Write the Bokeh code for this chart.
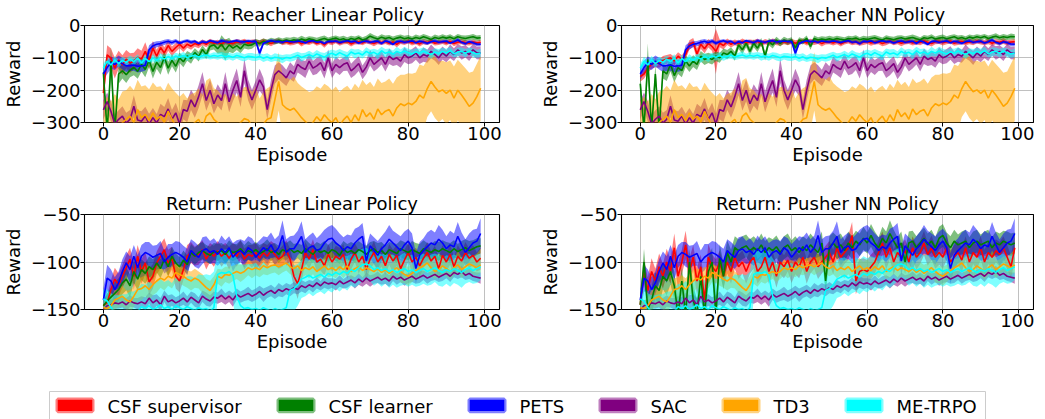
import numpy as np
from bokeh.plotting import figure
from bokeh.layouts import column, row
from bokeh.models import FixedTicker, Range1d, CustomJSTickFormatter
from bokeh.embed import file_html
from bokeh.resources import INLINE
from bokeh.core.properties import value

methods = ["CSF supervisor", "CSF learner", "PETS", "SAC", "TD3", "ME-TRPO"]
colors = ["red", "green", "blue", "purple", "orange", "cyan"]
x_ticks = [0, 20, 40, 60, 80, 100]
reacher_y_ticks = [-300, -200, -100, 0]
pusher_y_ticks = [-150, -100, -50]

# ---------------- Reacher (shared baselines) ----------------
reacher_pets = [-150,-130,-115,-120,-110,-118,-125,-124,-122,-126,-125,-123,
    -75,-63,-58,-56,-52,-49,-53,-48,
    -55,-50,-47,-52,-49,-56,-50,-53,-47,-50,
    -53,-47,-50,-52,-49,-47,-51,-50,-48,-50,
    -49,-86,-55,-50,-47,-50,-49,-52,-48,-50,
    -51,-48,-50,-53,-49,-47,-52,-50,-56,-49,
    -50,-48,-53,-50,-47,-51,-49,-54,-50,-48,
    -52,-50,-49,-55,-48,-51,-58,-50,-49,-52,
    -50,-48,-53,-49,-51,-55,-50,-48,-52,-50,
    -49,-54,-50,-45,-52,-56,-50,-53,-57,-58]
reacher_pets_sd = [18,20,19,18,17,18,19,17,18,19,18,17,
    14,11,9,8,8,7,7,6,
    6,5,5,6,5,5,6,5,4,5, 5,6,5,5,4,5,6,5,5,5,
    6,12,6,5,5,6,5,5,4,5, 5,6,5,5,6,5,5,4,6,5,
    5,5,6,5,4,5,6,5,5,6, 5,5,6,5,5,7,5,5,6,5,
    5,6,5,5,6,5,5,6,5,5, 6,5,5,6,5,6,5,6,7,6]
reacher_metrpo = [-132,-110,-122,-106,-118,-108,-114,-104,-112,-100,
    -116,-102,-112,-100,-108,-98,-104,-96,-102,-94,
    -98,-93,-99,-95,-92,-97,-94,-91,-96,-93,
    -95,-92,-97,-94,-98,-93,-96,-100,-95,-97,
    -99,-96,-101,-97,-103,-98,-100,-104,-99,-101,
    -97,-92,-99,-94,-90,-96,-88,-93,-98,-90,
    -86,-92,-84,-90,-95,-82,-88,-85,-91,-80,
    -87,-83,-90,-78,-86,-82,-89,-80,-85,-79,
    -84,-88,-81,-86,-79,-85,-90,-82,-87,-80,
    -85,-78,-88,-82,-80,-86,-79,-84,-88,-85]
reacher_metrpo_sd = [14,13,12,12,12,11,12,11,12,11,
    11,12,10,11,10,12,11,10,11,10, 10,11,10,9,11,10,10,11,9,10,
    11,10,12,10,11,10,12,11,10,12, 11,10,12,11,10,12,11,13,10,11,
    12,11,13,10,12,11,12,10,13,11, 12,14,11,12,13,11,14,12,11,13,
    12,11,14,12,13,11,12,14,11,13, 12,13,11,14,12,11,13,12,14,11,
    13,12,11,14,12,13,11,14,12,13]
reacher_sac = [-261,-235,-266,-305,-290,-280,-302,-290,-250,-292,
    -296,-280,-305,-285,-302,-275,-282,-258,-290,-270,
    -305,-260,-265,-230,-252,-220,-180,-232,-200,-242,
    -215,-232,-180,-236,-200,-170,-222,-140,-200,-230,
    -200,-168,-190,-260,-200,-152,-140,-150,-162,-140,
    -150,-120,-130,-136,-110,-132,-125,-115,-140,-100,
    -140,-120,-130,-120,-115,-140,-130,-118,-145,-128,
    -100,-120,-110,-100,-120,-95,-105,-100,-110,-90,
    -100,-95,-85,-100,-90,-95,-80,-90,-100,-85,
    -95,-80,-90,-75,-85,-80,-90,-75,-85,-85]
reacher_sac_sd = [30,28,32,30,28,30,32,29,34,30,
    31,29,32,30,28,33,30,34,29,31, 32,30,34,31,33,35,36,32,34,30,
    33,31,36,32,34,37,30,38,32,31, 30,34,28,30,32,28,26,27,25,26,
    24,25,23,26,24,22,25,23,24,26, 22,24,23,21,25,22,24,23,21,22,
    24,22,23,21,22,24,20,22,21,23, 20,22,21,19,22,20,21,19,22,20,
    19,21,20,18,21,19,20,18,19,20]
reacher_td3 = [-330,-320,-340,-310,-330,-300,-290,-280,-300,-260,
    -285,-275,-295,-270,-290,-280,-300,-265,-290,-310,
    -320,-305,-330,-310,-300,-290,-315,-280,-270,-290,
    -300,-320,-310,-330,-305,-320,-300,-288,-292,-310,
    -300,-330,-305,-290,-285,-230,-173,-245,-256,-262,
    -256,-270,-285,-297,-310,-300,-282,-296,-276,-290,
    -300,-285,-310,-292,-280,-300,-276,-295,-260,-282,
    -270,-290,-258,-276,-265,-260,-280,-255,-242,-248,
    -240,-245,-235,-215,-225,-195,-173,-190,-205,-199,
    -210,-200,-225,-200,-215,-232,-250,-240,-220,-194]
reacher_td3_sd = [95,100,105,98,102,96,90,94,100,92,
    96,90,98,94,100,92,97,88,95,102, 100,96,104,98,92,95,100,110,108,96,
    100,104,98,102,96,100,94,98,102,104, 110,104,100,96,98,95,90,92,96,94,
    98,92,96,100,104,98,94,100,96,102, 100,96,104,98,94,100,96,102,92,98,
    96,100,94,98,92,96,100,94,90,96, 92,96,90,94,100,88,92,96,94,90,
    96,92,98,94,96,100,104,98,102,100]

# Reacher, CSF with linear policy
reacher_csf_sup_lin = [-209,-91,-101,-132,-106,-122,-104,-116,-110,-98,
    -104,-80,-110,-70,-95,-68,-85,-62,-80,-68,
    -58,-70,-58,-64,-56,-60,-52,-58,-50,-55,
    -52,-58,-50,-54,-56,-50,-53,-48,-55,-51,
    -50,-54,-48,-52,-56,-50,-47,-53,-50,-55,
    -52,-49,-57,-50,-53,-48,-56,-51,-60,-50,
    -53,-48,-55,-51,-49,-57,-52,-50,-54,-48,
    -52,-56,-50,-53,-49,-55,-51,-58,-50,-52,
    -49,-54,-51,-57,-50,-53,-48,-55,-52,-50,
    -54,-49,-56,-52,-50,-53,-55,-51,-54,-52]
reacher_csf_sup_lin_sd = [32,30,30,32,28,30,28,30,26,28,
    26,28,24,22,20,18,18,16,15,14, 12,12,11,11,10,10,9,9,9,8,
    8,9,8,8,9,8,8,7,8,8, 7,8,8,7,8,8,7,8,8,7,
    8,7,8,8,7,8,7,8,9,7, 8,7,8,7,8,8,7,8,7,8,
    7,8,8,7,8,7,8,9,7,8, 7,8,7,8,8,7,8,7,8,7,
    8,7,8,7,8,8,7,8,7,8]
reacher_csf_lrn_lin = [-145,-330,-110,-330,-150,-140,-152,-138,-130,-142,
    -120,-136,-108,-142,-114,-130,-98,-132,-108,-126,
    -100,-112,-94,-102,-84,-96,-74,-90,-64,-60,
    -72,-58,-76,-60,-70,-62,-72,-58,-62,-60,
    -52,-56,-49,-53,-47,-50,-46,-49,-45,-48,
    -44,-47,-42,-46,-41,-44,-48,-43,-40,-45,
    -42,-39,-44,-41,-46,-40,-43,-38,-45,-41,
    -33,-38,-42,-36,-40,-37,-43,-39,-36,-41,
    -38,-42,-37,-40,-35,-39,-43,-37,-40,-36,
    -39,-36,-41,-35,-38,-40,-37,-35,-39,-38]
reacher_csf_lrn_lin_sd = [35,20,45,20,30,24,26,22,24,23,
    22,24,20,22,20,22,18,20,18,19, 16,17,15,16,14,15,13,14,13,14,
    15,28,32,22,16,14,14,13,12,12, 10,10,9,10,9,9,10,9,9,10,
    9,9,10,9,8,9,10,9,9,8, 9,8,9,9,10,8,9,8,9,9,
    10,9,8,9,9,8,9,9,8,9, 9,8,9,8,9,9,8,9,8,9,
    8,9,8,9,8,9,8,9,8,9]

# Reacher, CSF with NN policy
reacher_csf_sup_nn = [-158,-150,-132,-120,-115,-118,-108,-104,-100,-110,
    -95,-105,-90,-60,-52,-88,-58,-72,-55,-65,
    -80,-55,-62,-50,-58,-52,-56,-49,-54,-51,
    -53,-49,-57,-50,-54,-48,-52,-55,-50,-53,
    -49,-55,-51,-48,-54,-50,-52,-49,-56,-51,
    -50,-54,-49,-57,-51,-48,-53,-50,-55,-52,
    -49,-54,-51,-50,-56,-52,-48,-53,-50,-55,
    -51,-49,-54,-50,-53,-48,-52,-56,-50,-49,
    -53,-50,-48,-55,-51,-49,-54,-50,-52,-48,
    -51,-53,-49,-55,-50,-52,-48,-54,-51,-50]
reacher_csf_sup_nn_sd = [16,15,15,14,14,13,14,13,12,13,
    12,13,14,14,13,18,14,14,13,14, 70,12,12,10,10,9,9,9,8,8,
    8,8,9,8,8,8,9,8,8,8, 8,9,8,8,8,9,8,8,9,8,
    8,8,9,8,8,8,8,9,8,8, 8,9,8,8,8,9,8,8,8,9,
    8,8,8,9,8,8,8,9,8,8, 9,8,8,8,9,8,8,8,9,8,
    8,8,9,8,8,8,9,8,8,8]
reacher_csf_lrn_nn = [-180,-320,-105,-320,-150,-320,-140,-150,-120,-155,
    -130,-140,-110,-125,-110,-120,-95,-105,-100,-105,
    -95,-100,-85,-90,-80,-95,-60,-75,-55,-80,
    -55,-70,-50,-95,-50,-60,-45,-55,-45,-50,
    -45,-70,-45,-50,-40,-65,-40,-45,-42,-44,
    -41,-44,-40,-43,-45,-40,-42,-39,-44,-41,
    -43,-40,-38,-42,-45,-39,-41,-44,-40,-38,
    -42,-39,-37,-41,-44,-38,-40,-36,-42,-39,
    -37,-41,-38,-35,-40,-37,-42,-36,-39,-35,
    -38,-34,-40,-36,-33,-38,-35,-37,-34,-35]
reacher_csf_lrn_nn_sd = [40,20,50,20,30,20,24,22,22,21,
    20,20,18,19,18,18,16,17,16,16, 15,15,14,14,13,14,13,13,12,13,
    12,12,11,13,11,11,10,10,10,10, 9,11,9,9,9,10,9,9,9,9,
    9,9,8,9,9,8,9,9,8,9, 9,8,9,9,8,9,8,9,9,8,
    9,8,9,9,8,9,8,9,8,9, 9,8,9,8,9,8,9,8,9,8,
    9,8,9,8,9,8,9,8,9,8]

# ---------------- Pusher (shared baselines) ----------------
pusher_pets = [-140,-117,-120,-129,-122,-110,-101,-108,-94,-106,
    -94,-90,-92,-95,-93,-91,-100,-95,-92,-90,
    -92,-95,-100,-88,-92,-95,-88,-86,-90,-88,
    -92,-86,-90,-85,-95,-90,-88,-92,-85,-88,
    -95,-90,-85,-88,-82,-90,-85,-72,-90,-86,
    -86,-80,-73,-90,-85,-83,-88,-86,-80,-76,
    -75,-80,-83,-88,-84,-86,-80,-76,-73,-99,
    -83,-88,-93,-86,-82,-76,-80,-84,-88,-82,
    -78,-85,-107,-93,-88,-84,-80,-82,-76,-80,
    -86,-82,-84,-73,-82,-90,-85,-80,-78,-70]
pusher_pets_sd = [12,14,12,13,12,13,12,14,12,13,
    12,11,13,12,11,13,12,14,11,12, 13,12,14,12,13,12,14,13,12,13,
    12,14,13,12,15,13,12,14,12,13, 14,13,12,14,13,14,13,16,14,13,
    14,13,16,14,13,14,13,15,14,13, 14,15,13,14,13,14,15,13,14,15,
    13,14,15,13,14,15,13,14,15,14, 13,15,16,14,13,15,14,13,15,14,
    13,15,14,15,13,14,15,14,13,16]
pusher_metrpo = [-139,-141,-148,-153,-155,-154,-156,-153,-155,-152,
    -147,-149,-146,-150,-148,-145,-149,-147,-150,-146,
    -148,-150,-147,-149,-151,-148,-150,-149,-152,-148,
    -113,-111,-112,-110,-114,-136,-146,-149,-148,-150,
    -149,-151,-148,-150,-152,-149,-151,-150,-148,-130,
    -128,-124,-118,-116,-114,-117,-115,-113,-116,-112,
    -114,-111,-113,-110,-112,-108,-110,-106,-103,-102,
    -104,-108,-106,-109,-107,-110,-108,-111,-109,-107,
    -110,-108,-111,-109,-107,-110,-108,-106,-109,-111,
    -108,-110,-107,-109,-111,-108,-106,-109,-107,-105]
pusher_metrpo_sd = [10,12,15,18,20,20,22,22,24,24,
    24,25,26,26,27,27,28,28,28,30, 30,32,32,34,34,35,36,36,38,38,
    25,24,25,24,25,40,44,46,46,48, 48,46,48,46,48,46,48,46,46,30,
    24,22,20,20,19,19,18,18,18,18, 18,17,18,17,18,17,17,18,17,17,
    16,17,16,17,16,17,16,16,16,17, 16,16,15,16,16,15,16,15,16,15,
    15,16,15,15,16,15,15,14,15,14]
pusher_sac = [-150,-146,-145,-143,-144,-142,-145,-141,-143,-144,
    -142,-144,-138,-143,-140,-145,-136,-142,-140,-143,
    -141,-138,-142,-137,-140,-143,-136,-139,-141,-137,
    -138,-135,-139,-136,-140,-134,-137,-135,-133,-136,
    -134,-131,-135,-132,-130,-133,-129,-131,-128,-130,
    -127,-129,-125,-127,-124,-126,-122,-125,-121,-123,
    -122,-124,-120,-123,-121,-119,-122,-118,-121,-117,
    -120,-118,-116,-119,-117,-120,-115,-118,-116,-119,
    -117,-115,-118,-116,-114,-117,-115,-113,-116,-114,
    -112,-115,-111,-113,-110,-114,-112,-115,-116,-117]
pusher_sac_sd = [6,6,5,6,5,6,7,6,5,6,
    6,7,6,8,6,7,6,7,6,6, 6,7,6,6,7,6,6,7,6,6,
    6,7,6,6,7,6,6,6,7,6, 6,6,7,6,6,6,7,6,6,6,
    6,5,6,6,5,6,6,5,6,6, 5,6,6,5,6,5,6,6,5,6,
    6,5,6,5,6,6,5,6,5,6, 5,6,5,6,5,6,5,6,5,6,
    5,6,5,5,6,5,6,5,5,6]
pusher_td3 = [-148,-149,-146,-140,-138,-136,-140,-142,-136,-129,
    -128,-125,-129,-124,-120,-117,-119,-115,-117,-111,
    -113,-115,-118,-120,-117,-119,-123,-127,-130,-124,
    -115,-117,-113,-114,-112,-110,-112,-110,-106,-108,
    -106,-108,-104,-106,-104,-103,-105,-103,-101,-105,
    -107,-104,-109,-106,-108,-105,-110,-107,-104,-108,
    -106,-109,-105,-108,-104,-110,-107,-105,-109,-106,
    -108,-110,-107,-111,-108,-112,-109,-106,-110,-113,
    -115,-112,-109,-106,-104,-101,-106,-110,-108,-104,
    -107,-110,-106,-103,-108,-105,-102,-104,-106,-103]
pusher_td3_sd = [8,8,9,10,10,11,10,12,11,12,
    12,11,12,11,12,10,11,10,11,10, 9,10,9,10,10,9,10,9,10,9,
    8,9,8,9,8,8,9,8,8,9, 8,8,9,8,8,8,9,8,8,8,
    8,9,8,8,9,8,8,9,8,8, 9,8,8,9,8,8,9,8,8,9,
    8,8,9,8,8,9,8,8,12,9, 10,9,8,9,8,8,9,8,8,9,
    8,9,8,8,9,8,8,9,8,8]

# Pusher, CSF with linear policy
pusher_csf_sup_lin = [-146,-143,-129,-118,-124,-115,-106,-97,-115,-94,
    -110,-101,-121,-115,-101,-94,-87,-101,-96,-115,
    -120,-108,-94,-90,-94,-92,-87,-97,-90,-94,
    -88,-94,-90,-96,-90,-94,-87,-97,-92,-94,
    -90,-96,-90,-94,-88,-92,-97,-94,-87,-97,
    -115,-123,-108,-90,-97,-87,-100,-97,-104,-92,
    -100,-94,-97,-92,-108,-97,-90,-100,-94,-108,
    -97,-90,-100,-94,-104,-92,-99,-93,-107,-98,
    -90,-100,-95,-104,-96,-90,-99,-94,-107,-93,
    -100,-92,-105,-94,-99,-90,-96,-93,-100,-96]
pusher_csf_sup_lin_sd = [6,8,10,12,12,12,13,12,14,12,
    13,12,14,13,12,13,12,14,12,13, 12,11,12,11,10,11,10,11,10,11,
    10,11,10,12,10,11,10,11,10,12, 10,11,10,12,10,11,10,11,10,11,
    12,16,12,11,10,11,10,12,10,11, 10,11,12,11,10,11,10,12,10,11,
    10,12,10,11,10,11,12,11,10,11, 10,11,10,12,10,11,10,11,12,11,
    10,11,10,12,10,11,10,11,10,12]
pusher_csf_lrn_lin = [-146,-141,-137,-133,-129,-122,-118,-125,-110,-118,
    -108,-112,-105,-108,-101,-107,-97,-105,-94,-101,
    -105,-98,-103,-90,-94,-90,-88,-91,-93,-89,
    -90,-88,-92,-87,-90,-89,-86,-91,-88,-90,
    -87,-91,-89,-86,-90,-88,-92,-87,-89,-86,
    -90,-88,-91,-86,-89,-92,-87,-90,-88,-91,
    -87,-89,-93,-86,-90,-88,-91,-87,-89,-92,
    -88,-86,-90,-88,-92,-87,-89,-91,-86,-88,
    -90,-87,-89,-91,-86,-88,-90,-87,-89,-86,
    -88,-90,-86,-89,-87,-85,-88,-86,-84,-83]
pusher_csf_lrn_lin_sd = [6,8,10,12,12,12,12,12,12,12,
    11,11,11,11,10,10,10,10,10,10, 10,10,10,9,9,9,9,9,9,9,
    9,8,9,10,9,8,9,9,10,9, 8,9,9,10,9,8,9,10,9,9,
    9,8,9,10,9,9,8,9,10,9, 9,10,9,8,9,9,10,9,8,9,
    9,8,10,9,9,8,9,10,9,9, 8,9,9,10,9,8,9,9,10,9,
    9,10,9,8,9,9,10,9,9,8]

# Pusher, CSF with NN policy
pusher_csf_sup_nn = [-145,-110,-130,-110,-120,-105,-115,-100,-110,-85,
    -115,-100,-82,-110,-95,-120,-105,-140,-95,-105,
    -110,-100,-115,-100,-110,-95,-105,-100,-110,-100,
    -95,-110,-105,-95,-110,-100,-115,-100,-105,-98,
    -110,-100,-105,-95,-110,-100,-95,-105,-100,-95,
    -90,-100,-85,-95,-90,-85,-72,-120,-110,-108,
    -110,-105,-100,-90,-80,-95,-85,-100,-90,-95,
    -88,-100,-85,-95,-90,-80,-92,-85,-95,-90,
    -95,-85,-100,-95,-90,-98,-85,-100,-90,-95,
    -85,-100,-90,-95,-88,-92,-85,-95,-105,-85]
pusher_csf_sup_nn_sd = [8,12,14,14,13,14,13,14,13,15,
    14,13,15,14,13,14,13,16,14,13, 13,12,13,12,13,12,13,12,13,12,
    12,13,12,12,13,12,12,13,12,12, 12,13,12,12,13,12,12,13,12,12,
    12,13,12,13,12,13,14,14,13,12, 12,13,12,13,12,13,12,13,12,13,
    12,13,12,13,12,13,12,13,12,13, 12,13,12,13,12,13,12,13,12,13,
    12,13,12,13,12,13,12,13,12,14]
pusher_csf_lrn_nn = [-145,-100,-150,-140,-125,-130,-115,-120,-110,-125,
    -155,-120,-155,-100,-140,-155,-115,-155,-110,-100,
    -155,-95,-115,-90,-100,-85,-88,-85,-83,-88,
    -85,-88,-82,-90,-85,-88,-84,-90,-85,-82,
    -88,-85,-90,-84,-88,-82,-86,-90,-80,-120,
    -85,-80,-85,-82,-88,-80,-85,-78,-82,-75,
    -80,-72,-80,-85,-75,-80,-70,-78,-85,-80,
    -100,-80,-78,-85,-80,-75,-82,-78,-85,-75,
    -72,-80,-85,-78,-82,-80,-78,-85,-80,-78,
    -82,-80,-78,-85,-80,-82,-78,-80,-82,-80]
pusher_csf_lrn_nn_sd = [8,14,16,15,14,15,14,15,14,15,
    16,15,16,14,15,16,14,16,14,15, 16,14,14,13,13,12,12,12,12,12,
    12,11,12,12,11,12,12,11,12,12, 11,12,12,11,12,12,11,12,12,14,
    12,11,12,12,11,12,12,11,12,12, 11,12,12,11,12,12,14,12,11,12,
    13,12,11,12,12,11,12,12,11,12, 12,11,12,12,11,12,12,11,12,12,
    11,12,12,11,12,12,11,12,12,11]

panels = [
    ("Return: Reacher Linear Policy", (-300, 0), reacher_y_ticks,
     [reacher_csf_sup_lin, reacher_csf_lrn_lin, reacher_pets, reacher_sac, reacher_td3, reacher_metrpo],
     [reacher_csf_sup_lin_sd, reacher_csf_lrn_lin_sd, reacher_pets_sd, reacher_sac_sd, reacher_td3_sd, reacher_metrpo_sd]),
    ("Return: Reacher NN Policy", (-300, 0), reacher_y_ticks,
     [reacher_csf_sup_nn, reacher_csf_lrn_nn, reacher_pets, reacher_sac, reacher_td3, reacher_metrpo],
     [reacher_csf_sup_nn_sd, reacher_csf_lrn_nn_sd, reacher_pets_sd, reacher_sac_sd, reacher_td3_sd, reacher_metrpo_sd]),
    ("Return: Pusher Linear Policy", (-150, -50), pusher_y_ticks,
     [pusher_csf_sup_lin, pusher_csf_lrn_lin, pusher_pets, pusher_sac, pusher_td3, pusher_metrpo],
     [pusher_csf_sup_lin_sd, pusher_csf_lrn_lin_sd, pusher_pets_sd, pusher_sac_sd, pusher_td3_sd, pusher_metrpo_sd]),
    ("Return: Pusher NN Policy", (-150, -50), pusher_y_ticks,
     [pusher_csf_sup_nn, pusher_csf_lrn_nn, pusher_pets, pusher_sac, pusher_td3, pusher_metrpo],
     [pusher_csf_sup_nn_sd, pusher_csf_lrn_nn_sd, pusher_pets_sd, pusher_sac_sd, pusher_td3_sd, pusher_metrpo_sd]),
]

FONT = "DejaVu Sans"
FS = "18px"
minus_fmt = CustomJSTickFormatter(code="return (tick < 0 ? '\u2212' : '') + Math.abs(tick).toFixed(0);")

# layout constants (px)
T1, FH1, B1 = 16, 97, 56
T2, FH2, B2 = 36, 95, 56
L1, FW1, R1 = 79, 415, 20
L2, FW2, R2 = 102, 412, 1


def make_panel(spec, left, fw, right, top, fh, bottom):
    title, yr, yt, means, sds = spec
    p = figure(frame_width=fw, frame_height=fh,
               x_range=Range1d(-4.95, 103.95), y_range=Range1d(*yr),
               output_backend="svg", toolbar_location=None,
               min_border_left=left, min_border_right=right,
               min_border_top=top, min_border_bottom=bottom,
               title=title)
    p.title.align = "center"
    p.title.text_font = FONT
    p.title.text_font_size = FS
    p.title.text_font_style = "normal"
    p.title.text_color = "black"
    p.title.standoff = 2
    p.outline_line_color = "black"
    p.outline_line_width = 1.1
    p.outline_line_alpha = 1
    p.background_fill_color = "white"
    p.border_fill_color = "white"
    for ax in (p.xaxis[0], p.yaxis[0]):
        ax.axis_line_color = None
        ax.major_tick_line_color = "black"
        ax.major_tick_out = 4
        ax.major_tick_in = 0
        ax.minor_tick_line_color = None
        ax.major_label_text_font = FONT
        ax.major_label_text_font_size = FS
        ax.major_label_text_color = "black"
        ax.axis_label_text_font = FONT
        ax.axis_label_text_font_size = FS
        ax.axis_label_text_font_style = "normal"
        ax.axis_label_text_color = "black"
        ax.major_label_standoff = 0
    p.xaxis.ticker = FixedTicker(ticks=x_ticks)
    p.yaxis.ticker = FixedTicker(ticks=yt)
    p.xaxis.formatter = minus_fmt
    p.yaxis.formatter = minus_fmt
    p.xaxis.axis_label = "Episode"
    p.yaxis.axis_label = "Reward"
    p.xaxis.axis_label_standoff = 1
    p.yaxis.axis_label_standoff = 4
    p.grid.grid_line_color = "#b0b0b0"
    p.grid.grid_line_width = 0.8
    data = []
    for m, s in zip(means, sds):
        n = min(len(m), len(s))
        mm = np.array(m[:n], dtype=float)
        ss = np.array(s[:n], dtype=float)
        data.append((np.arange(n), mm, ss))
    # shaded bands first, then the mean lines on top
    for (xs, mm, ss), c in zip(data, colors):
        p.varea(x=xs, y1=mm - ss, y2=mm + ss, fill_color=c, fill_alpha=0.5)
    for (xs, mm, ss), c in zip(data, colors):
        p.line(x=xs, y=mm, line_color=c, line_width=1.6)
    return p


f1 = make_panel(panels[0], L1, FW1, R1, T1, FH1, B1)
f2 = make_panel(panels[1], L2, FW2, R2, T1, FH1, B1)
f3 = make_panel(panels[2], L1, FW1, R1, T2, FH2, B2)
f4 = make_panel(panels[3], L2, FW2, R2, T2, FH2, B2)

# legend strip
LW = L1 + FW1 + R1 + L2 + FW2 + R2
H_used = (T1 + FH1 + B1) + (T2 + FH2 + B2)
H3 = 411 - H_used
lg = figure(width=LW, height=H3, x_range=Range1d(0, LW), y_range=Range1d(H3, 0),
            output_backend="svg", toolbar_location=None, min_border=0,
            x_axis_type=None, y_axis_type=None)
lg.outline_line_color = None
lg.grid.visible = False
box_top = 390 - 8 - H_used
lg.quad(left=[49], right=[985], top=[box_top], bottom=[H3 + 10],
        fill_color="white", line_color="#cccccc", line_width=1)
entry_x = [55, 276, 467, 598, 721, 844]
sw_w, sw_h, pad = 39, 15.7, 2.2
sw_top = box_top + 6
lg.quad(left=[x + pad for x in entry_x], right=[x + sw_w - pad for x in entry_x],
        top=[sw_top + pad] * 6, bottom=[sw_top + sw_h - pad] * 6,
        fill_color=colors, line_color=colors, line_alpha=0.5, line_width=2 * pad)
lg.text(x=[x + 52 for x in entry_x], y=[sw_top + 8.5] * 6, text=methods,
        text_font=value(FONT), text_font_size=FS, text_baseline="middle",
        text_align="left", text_color="black")

layout = column(row(f1, f2), row(f3, f4), lg)
open("out.html", "w").write(file_html(layout, INLINE))
